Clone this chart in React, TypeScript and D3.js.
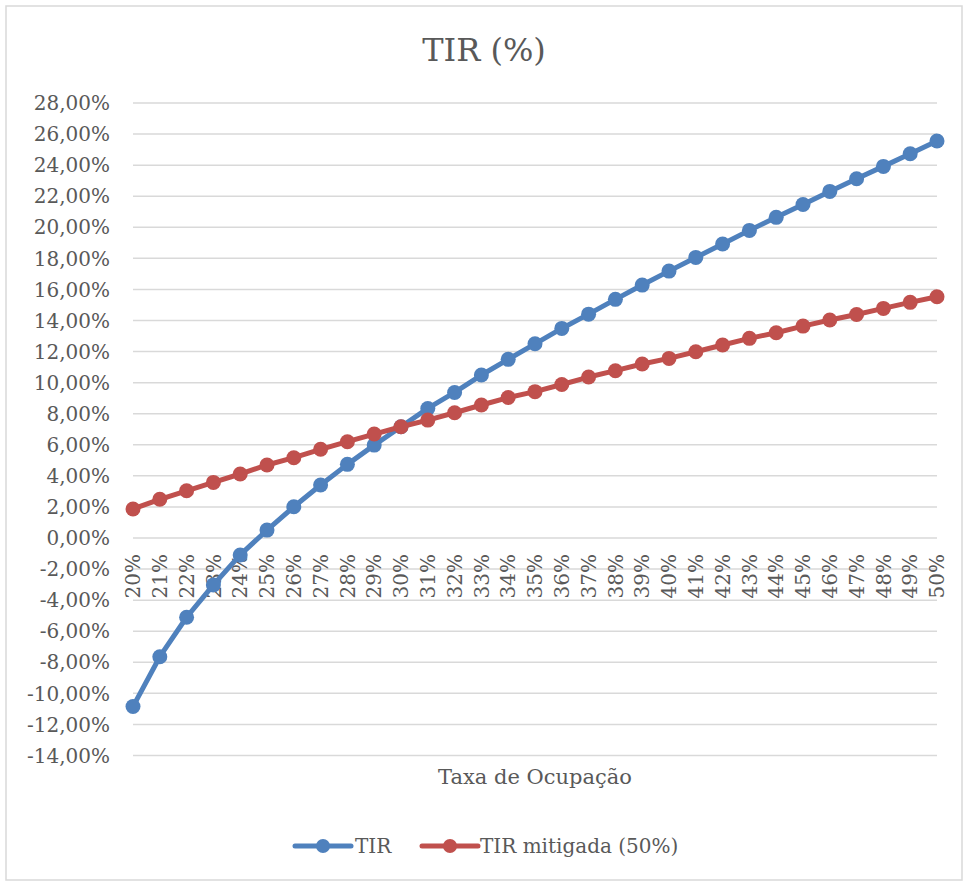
import { useEffect, useRef } from "react";
import * as d3 from "d3";

const categories = [
  "20%", "21%", "22%", "23%", "24%", "25%", "26%", "27%", "28%", "29%", "30%",
  "31%", "32%", "33%", "34%", "35%", "36%", "37%", "38%", "39%", "40%",
  "41%", "42%", "43%", "44%", "45%", "46%", "47%", "48%", "49%", "50%",
];

const tirValues = [
  -10.85, -7.64, -5.1, -3.02, -1.09, 0.51, 2.01, 3.41, 4.74, 5.98, 7.16,
  8.34, 9.37, 10.49, 11.5, 12.5, 13.49, 14.41, 15.36, 16.28, 17.18,
  18.06, 18.92, 19.8, 20.64, 21.47, 22.31, 23.12, 23.92, 24.73, 25.55,
];

const tirMitigadaValues = [
  1.87, 2.49, 3.04, 3.58, 4.12, 4.7, 5.17, 5.71, 6.2, 6.69, 7.16,
  7.59, 8.06, 8.56, 9.04, 9.42, 9.88, 10.36, 10.77, 11.2, 11.56,
  11.99, 12.42, 12.85, 13.21, 13.64, 14.03, 14.39, 14.78, 15.17, 15.53,
];

const yTicks = d3.range(-14, 30, 2);

const seriesNames = ["TIR", "TIR mitigada (50%)"];
const seriesColors = ["#4f81bd", "#c0504d"];

const fmt = (v: number) => v.toFixed(2).replace(".", ",") + "%";

export default function App() {
  const svgRef = useRef<SVGSVGElement>(null);

  useEffect(() => {
    const width = 963;
    const height = 881;
    const font = "'DejaVu Serif', serif";
    const textColor = "#595959";

    const svg = d3.select(svgRef.current);
    svg.selectAll("*").remove();

    // outer chart border
    svg
      .append("rect")
      .attr("x", 6)
      .attr("y", 6)
      .attr("width", width - 7)
      .attr("height", height - 7)
      .attr("fill", "#fff")
      .attr("stroke", "#d9d9d9")
      .attr("stroke-width", 1.5);

    const x = d3.scalePoint<string>().domain(categories).range([133, 937]).padding(0);
    const y = d3.scaleLinear().domain([-14, 28]).range([755.5, 103]);

    // gridlines
    svg
      .append("g")
      .selectAll("line")
      .data(yTicks)
      .join("line")
      .attr("x1", 133)
      .attr("x2", 937)
      .attr("y1", (d) => y(d))
      .attr("y2", (d) => y(d))
      .attr("stroke", "#d9d9d9")
      .attr("stroke-width", 1.5);

    // y labels
    svg
      .append("g")
      .selectAll("text")
      .data(yTicks)
      .join("text")
      .attr("x", 110)
      .attr("y", (d) => y(d))
      .attr("dy", "0.36em")
      .attr("text-anchor", "end")
      .attr("font-family", font)
      .attr("font-size", 20)
      .attr("fill", textColor)
      .text((d) => fmt(d));

    // x labels (rotated, sitting on the zero line)
    svg
      .append("g")
      .selectAll("text")
      .data(categories)
      .join("text")
      .attr("transform", (d) => `translate(${x(d)},${y(0) + 16}) rotate(-90)`)
      .attr("dy", "0.36em")
      .attr("text-anchor", "end")
      .attr("font-family", font)
      .attr("font-size", 20)
      .attr("fill", textColor)
      .text((d) => d);

    // title
    svg
      .append("text")
      .attr("x", 484)
      .attr("y", 61)
      .attr("text-anchor", "middle")
      .attr("font-family", font)
      .attr("font-size", 32)
      .attr("fill", textColor)
      .text("TIR (%)");

    // x axis title
    svg
      .append("text")
      .attr("x", 535)
      .attr("y", 784)
      .attr("text-anchor", "middle")
      .attr("font-family", font)
      .attr("font-size", 21)
      .attr("fill", textColor)
      .text("Taxa de Ocupação");

    const allSeries = [tirValues, tirMitigadaValues];
    const line = d3
      .line<number>()
      .x((_, i) => x(categories[i])!)
      .y((d) => y(d));

    allSeries.forEach((vals, si) => {
      const g = svg.append("g");
      g.append("path")
        .datum(vals)
        .attr("d", line)
        .attr("fill", "none")
        .attr("stroke", seriesColors[si])
        .attr("stroke-width", 5)
        .attr("stroke-linejoin", "round")
        .attr("stroke-linecap", "round");
      g.selectAll("circle")
        .data(vals)
        .join("circle")
        .attr("cx", (_, i) => x(categories[i])!)
        .attr("cy", (d) => y(d))
        .attr("r", 7.5)
        .attr("fill", seriesColors[si]);
    });

    // legend
    const legendY = 846;
    const legendItems = [
      { x0: 295, tx: 355 },
      { x0: 422, tx: 480 },
    ];
    legendItems.forEach((it, i) => {
      const g = svg.append("g");
      g.append("line")
        .attr("x1", it.x0)
        .attr("x2", it.x0 + 56)
        .attr("y1", legendY)
        .attr("y2", legendY)
        .attr("stroke", seriesColors[i])
        .attr("stroke-width", 5)
        .attr("stroke-linecap", "round");
      g.append("circle")
        .attr("cx", it.x0 + 28)
        .attr("cy", legendY)
        .attr("r", 7)
        .attr("fill", seriesColors[i]);
      g.append("text")
        .attr("x", it.tx)
        .attr("y", legendY)
        .attr("dy", "0.36em")
        .attr("font-family", font)
        .attr("font-size", 20)
        .attr("fill", textColor)
        .text(seriesNames[i]);
    });
  }, []);

  return (
    <svg
      ref={svgRef}
      width={963}
      height={881}
      style={{ position: "absolute", left: 0, top: 0, display: "block" }}
    />
  );
}
